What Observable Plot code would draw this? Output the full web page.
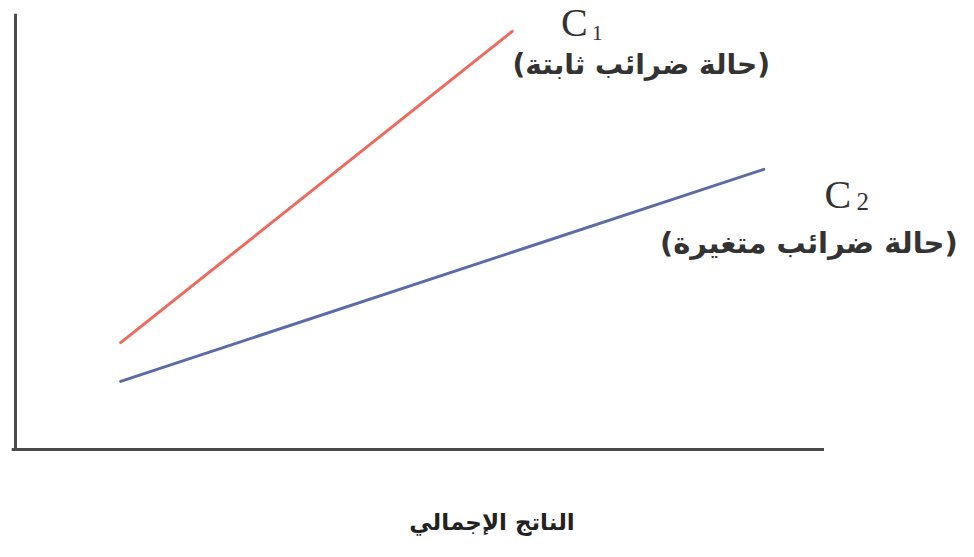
<!DOCTYPE html>
<html>
<head>
<meta charset="utf-8">
<script src="https://cdn.jsdelivr.net/npm/d3@7"></script>
<script src="https://cdn.jsdelivr.net/npm/@observablehq/plot@0.6"></script>
<style>
  html, body { margin: 0; padding: 0; background: #ffffff; }
  #chart svg { display: block; }
</style>
</head>
<body>
<div id="chart"></div>
<script>
// Curve C1 (fixed taxes) and C2 (variable taxes): [x, y] endpoints
const seriesNames = ["C1", "C2"];
const c1X = [13, 61.4];
const c1Y = [24.8, 97];
const c2X = [13, 92.5];
const c2Y = [15.8, 65];
const c1Label = "(حالة ضرائب ثابتة)";
const c2Label = "(حالة ضرائب متغيرة)";
const xTitle = "الناتج الإجمالي";

const c1 = c1X.map((x, i) => ({series: seriesNames[0], x, y: c1Y[i]}));
const c2 = c2X.map((x, i) => ({series: seriesNames[1], x, y: c2Y[i]}));
const c1End = [c1[c1.length - 1]];
const c2End = [c2[c2.length - 1]];

const arabicFont = "'DejaVu Sans', 'Noto Sans', sans-serif";
const serifFont = "'Liberation Serif', 'DejaVu Serif', serif";

const chart = Plot.plot({
  width: 974,
  height: 557,
  marginLeft: 15,
  marginRight: 150,
  marginTop: 18,
  marginBottom: 108,
  x: {domain: [0, 100], axis: null},
  y: {domain: [0, 100], axis: null},
  style: {background: "#ffffff"},
  marks: [
    Plot.ruleX([0], {y1: 0, y2: 101, stroke: "#4a4a4a", strokeWidth: 3}),
    Plot.ruleY([0], {x1: -0.4, x2: 100, stroke: "#4a4a4a", strokeWidth: 3}),
    Plot.line(c1, {x: "x", y: "y", stroke: "#ee6a5c", strokeWidth: 3}),
    Plot.line(c2, {x: "x", y: "y", stroke: "#5b6ba8", strokeWidth: 3}),
    // C1 label
    Plot.text(c1End, {x: "x", y: "y", text: () => "C", dx: 62, dy: -8, fontSize: 40, fontFamily: serifFont, fill: "#333"}),
    Plot.text(c1End, {x: "x", y: "y", text: () => "1", dx: 85, dy: 2, fontSize: 22, fontFamily: serifFont, fill: "#333"}),
    Plot.text(c1End, {x: "x", y: "y", text: () => c1Label, dx: 129, dy: 34, fontSize: 28, fontWeight: "bold", fontFamily: arabicFont, fill: "#333"}),
    // C2 label
    Plot.text(c2End, {x: "x", y: "y", text: () => "C", dx: 74, dy: 26, fontSize: 40, fontFamily: serifFont, fill: "#333"}),
    Plot.text(c2End, {x: "x", y: "y", text: () => "2", dx: 99, dy: 33, fontSize: 25, fontFamily: serifFont, fill: "#333"}),
    Plot.text(c2End, {x: "x", y: "y", text: () => c2Label, dx: 45, dy: 74, fontSize: 29, fontWeight: "bold", fontFamily: arabicFont, fill: "#333"}),
    // x-axis title
    Plot.text([xTitle], {frameAnchor: "bottom", dx: 72, dy: 80, fontSize: 23, fontWeight: "bold", fontFamily: arabicFont, fill: "#222"})
  ]
});
document.getElementById("chart").appendChild(chart);
</script>
</body>
</html>
